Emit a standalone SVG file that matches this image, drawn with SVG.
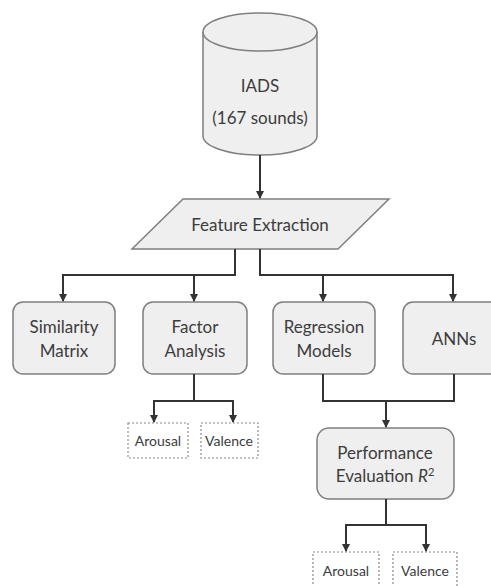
<svg xmlns="http://www.w3.org/2000/svg" width="491" height="586" viewBox="0 0 491 586">
<defs>
<marker id="ah" markerWidth="8" markerHeight="8" refX="7" refY="4" orient="auto" markerUnits="userSpaceOnUse">
<path d="M0,0 L8,4 L0,8 z" fill="#333"/>
</marker>
<style>
.box{fill:#efefef;stroke:#7f7f7f;stroke-width:1.5}
.dash{fill:#fff;stroke:#8a8a8a;stroke-width:1.2;stroke-dasharray:2,2}
.t{font-family:Lato,"Open Sans",sans-serif;font-size:17px;fill:#3c3c3c;text-anchor:middle}
.s{font-family:Lato,"Open Sans",sans-serif;font-size:14px;fill:#3c3c3c;text-anchor:middle}
.c{fill:none;stroke:#333;stroke-width:2}
</style>
</defs>
<rect width="491" height="586" fill="#fff"/>
<g id="iads">
<path class="box" d="M203,32 L203,136 A57,19 0 0 0 317,136 L317,32"/>
<ellipse class="box" cx="260" cy="32" rx="57" ry="19"/>
<text class="t" x="260" y="92" font-size="20">IADS</text>
<text class="t" x="260" y="124" font-size="20">(167 sounds)</text>
</g>
<g id="feature">
<polygon class="box" points="183,199 389,199 338,249 132,249"/>
<text class="t" x="260" y="231">Feature Extraction</text>
</g>
<g id="similarity">
<rect class="box" x="13" y="302" width="102" height="72" rx="10"/>
<text class="t" x="64" y="333">Similarity</text>
<text class="t" x="64" y="357">Matrix</text>
</g>
<g id="factor">
<rect class="box" x="143" y="302" width="104" height="72" rx="10"/>
<text class="t" x="195" y="333">Factor</text>
<text class="t" x="195" y="357">Analysis</text>
</g>
<g id="regression">
<rect class="box" x="273" y="302" width="102" height="72" rx="10"/>
<text class="t" x="324" y="333">Regression</text>
<text class="t" x="324" y="357">Models</text>
</g>
<g id="anns">
<rect class="box" x="403" y="302" width="102" height="72" rx="10"/>
<text class="t" x="454" y="345">ANNs</text>
</g>
<g id="arousal1">
<rect class="dash" x="128" y="423" width="60" height="35"/>
<text class="s" x="158" y="446">Arousal</text>
</g>
<g id="valence1">
<rect class="dash" x="201" y="423" width="57" height="35"/>
<text class="s" x="229" y="446">Valence</text>
</g>
<g id="performance">
<rect class="box" x="317" y="428" width="137" height="71" rx="12"/>
<text class="t" x="385" y="459">Performance</text>
<text class="t" x="385" y="482">Evaluation <tspan font-style="italic">R</tspan><tspan font-size="11" dy="-6">2</tspan></text>
</g>
<g id="arousal2">
<rect class="dash" x="313" y="552" width="66" height="40"/>
<text class="s" x="346" y="576">Arousal</text>
</g>
<g id="valence2">
<rect class="dash" x="393" y="552" width="64" height="40"/>
<text class="s" x="425" y="576">Valence</text>
</g>
<g id="connectors">
<path class="c" d="M260,155 L260,198" marker-end="url(#ah)"/>
<path class="c" d="M235,249 L235,275 L63,275 L63,301" marker-end="url(#ah)"/>
<path class="c" d="M194,275 L194,301" marker-end="url(#ah)"/>
<path class="c" d="M260,249 L260,275 L453,275 L453,301" marker-end="url(#ah)"/>
<path class="c" d="M323,275 L323,301" marker-end="url(#ah)"/>
<path class="c" d="M194,374 L194,401"/>
<path class="c" d="M154,401 L233,401"/>
<path class="c" d="M154,400 L154,422" marker-end="url(#ah)"/>
<path class="c" d="M233,400 L233,422" marker-end="url(#ah)"/>
<path class="c" d="M323,374 L323,401 L454,401 L454,374"/>
<path class="c" d="M386,401 L386,427" marker-end="url(#ah)"/>
<path class="c" d="M386,499 L386,525"/>
<path class="c" d="M346,525 L426,525"/>
<path class="c" d="M346,524 L346,551" marker-end="url(#ah)"/>
<path class="c" d="M426,524 L426,551" marker-end="url(#ah)"/>
</g>
</svg>
